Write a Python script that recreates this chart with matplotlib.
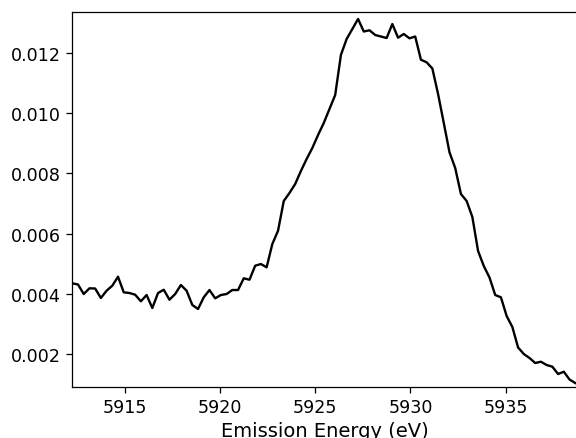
import matplotlib
matplotlib.use("Agg")
import matplotlib.pyplot as plt

energy = [
    5912.25, 5912.55, 5912.85, 5913.15, 5913.45, 5913.75, 5914.05, 5914.35, 5914.65, 5914.95,
    5915.25, 5915.55, 5915.85, 5916.15, 5916.45, 5916.75, 5917.05, 5917.35, 5917.65, 5917.95,
    5918.25, 5918.55, 5918.85, 5919.15, 5919.45, 5919.75, 5920.05, 5920.35, 5920.65, 5920.95,
    5921.25, 5921.55, 5921.85, 5922.15, 5922.45, 5922.75, 5923.05, 5923.35, 5923.65, 5923.95,
    5924.25, 5924.55, 5924.85, 5925.15, 5925.45, 5925.75, 5926.05, 5926.35, 5926.65, 5926.95,
    5927.25, 5927.55, 5927.85, 5928.15, 5928.45, 5928.75, 5929.05, 5929.35, 5929.65, 5929.95,
    5930.25, 5930.55, 5930.85, 5931.15, 5931.45, 5931.75, 5932.05, 5932.35, 5932.65, 5932.95,
    5933.25, 5933.55, 5933.85, 5934.15, 5934.45, 5934.75, 5935.05, 5935.35, 5935.65, 5935.95,
    5936.25, 5936.55, 5936.85, 5937.15, 5937.45, 5937.75, 5938.05, 5938.35, 5938.65,
]

intensity = [
    0.004349, 0.004309, 0.003993, 0.004183, 0.004176, 0.003860, 0.004103, 0.004269, 0.004568, 0.004050,
    0.004026, 0.003970, 0.003751, 0.003960, 0.003528, 0.004026, 0.004136, 0.003804, 0.003993, 0.004292,
    0.004103, 0.003628, 0.003495, 0.003883, 0.004126, 0.003850, 0.003960, 0.003993, 0.004126, 0.004126,
    0.004515, 0.004468, 0.004933, 0.004990, 0.004880, 0.005654, 0.006096, 0.007083, 0.007349, 0.007648,
    0.008080, 0.008478, 0.008844, 0.009276, 0.009674, 0.010140, 0.010605, 0.011934, 0.012465, 0.012797,
    0.013130, 0.012714, 0.012754, 0.012598, 0.012548, 0.012498, 0.012963, 0.012508, 0.012631, 0.012488,
    0.012548, 0.011777, 0.011691, 0.011485, 0.010638, 0.009674, 0.008701, 0.008179, 0.007316, 0.007083,
    0.006551, 0.005422, 0.004923, 0.004541, 0.003960, 0.003883, 0.003262, 0.002897, 0.002216, 0.002000,
    0.001867, 0.001701, 0.001744, 0.001634, 0.001578, 0.001335, 0.001412, 0.001153, 0.001036,
]

xticks = [5915, 5920, 5925, 5930, 5935]
yticks = [0.002, 0.004, 0.006, 0.008, 0.010, 0.012]

W, H = 576, 439
fig = plt.figure(figsize=(W / 100, H / 100), dpi=100)
left, right, top, bottom = 72.3, 578.0, 13.3, 388.3
ax = fig.add_axes([left / W, (H - bottom) / H, (right - left) / W, (bottom - top) / H])

ax.plot(energy, intensity, color="black", linewidth=1.7)
ax.set_xlim(5912.25, 5915 + (right - 124.7) / 19.05)
ax.set_ylim(0.000894, 0.013352)
ax.set_xticks(xticks)
ax.set_yticks(yticks)
ax.set_yticklabels([f"{v:.3f}" for v in yticks])
ax.tick_params(labelsize=12.6, length=4.5, width=0.9)
for s in ax.spines.values():
    s.set_linewidth(0.9)
ax.set_xlabel("Emission Energy (eV)", fontsize=14, labelpad=3.5)

fig.savefig("out.png", dpi=100)
